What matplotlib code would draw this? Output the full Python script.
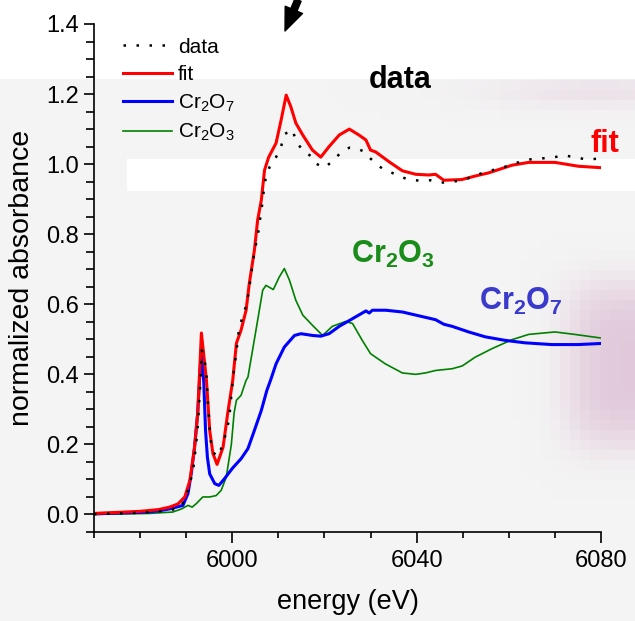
import numpy as np
import matplotlib.pyplot as plt
from matplotlib.ticker import FixedLocator, MultipleLocator

plt.rcParams["font.family"] = "Liberation Sans"
plt.rcParams["mathtext.fontset"] = "custom"
plt.rcParams["mathtext.rm"] = "Liberation Sans"
plt.rcParams["mathtext.it"] = "Liberation Sans:italic"
plt.rcParams["mathtext.bf"] = "Liberation Sans:bold"

# measured spectrum (dotted)
data_e = [5970, 5975, 5980, 5985, 5988.6, 5990.0, 5990.8, 5991.5, 5991.8, 5992.4, 5992.6,
          5992.9, 5993.1, 5993.4, 5994.1, 5994.4, 5994.7, 5994.9, 5995.1, 5995.3, 5995.8,
          5996.8, 5998.0, 5999.3, 6000.1, 6001.1, 6001.4, 6002.1, 6003.0, 6003.5, 6003.9,
          6004.3, 6004.7, 6005.7, 6006.1, 6006.5, 6006.8, 6007.2, 6008.1, 6009.5, 6010.6,
          6011.3, 6013.0, 6014.0, 6015.6, 6017.1, 6018.1, 6019.9, 6021.9, 6023.5, 6025.4,
          6027.0, 6028.4, 6029.8, 6031.7, 6032.8, 6034.7, 6036.5, 6038.3, 6040.5, 6043.0,
          6045.3, 6049.8, 6054.5, 6057.1, 6059.6, 6061.8, 6064.1, 6066.9, 6069.5, 6072.1,
          6074.5, 6077.1, 6079.6]
data_y = [0.001, 0.003, 0.005, 0.010, 0.017, 0.050, 0.089, 0.126, 0.160, 0.231, 0.269,
          0.340, 0.378, 0.469, 0.431, 0.395, 0.321, 0.286, 0.249, 0.213, 0.178,
          0.165, 0.200, 0.270, 0.383, 0.488, 0.523, 0.559, 0.595, 0.630, 0.667,
          0.704, 0.740, 0.811, 0.850, 0.886, 0.921, 0.956, 0.992, 1.020, 1.051,
          1.085, 1.099, 1.061, 1.035, 1.023, 1.002, 0.990, 1.009, 1.033, 1.047,
          1.045, 1.037, 1.018, 0.996, 0.985, 0.975, 0.964, 0.956, 0.953, 0.954,
          0.947, 0.953, 0.976, 0.985, 0.994, 1.004, 1.013, 1.016, 1.019, 1.025,
          1.019, 1.013, 1.016]

# linear combination fit
fit_e = [5970, 5975, 5980, 5984, 5986.4, 5988.2, 5989.7, 5990.8, 5991.8, 5992.5, 5993.3,
         5994.4, 5995.1, 5995.8, 5996.7, 5998.0, 5999.0, 6000.1, 6000.9, 6001.9, 6003.0,
         6003.7, 6004.8, 6005.5, 6006.3, 6007.0, 6007.9, 6009.5, 6010.6, 6011.7, 6012.7,
         6013.8, 6015.3, 6017.4, 6019.2, 6021.0, 6023.2, 6025.4, 6027.5, 6029.0, 6030.0,
         6031.1, 6034.0, 6036.9, 6039.8, 6042.6, 6044.1, 6045.9, 6049.8, 6052.7, 6055.6,
         6060.7, 6064.3, 6070.0, 6075.1, 6079.8]
fit_y = [0.003, 0.006, 0.009, 0.014, 0.021, 0.030, 0.050, 0.097, 0.190, 0.288, 0.518,
         0.383, 0.240, 0.174, 0.143, 0.192, 0.288, 0.383, 0.489, 0.526, 0.583,
         0.660, 0.754, 0.840, 0.897, 0.983, 1.020, 1.060, 1.126, 1.197, 1.164,
         1.117, 1.083, 1.040, 1.020, 1.050, 1.083, 1.100, 1.083, 1.069, 1.040,
         1.035, 1.007, 0.981, 0.971, 0.969, 0.971, 0.954, 0.956, 0.966, 0.975,
         0.997, 1.005, 1.005, 0.994, 0.990]

# Cr2O7 reference
cr2o7_e = [5970, 5980, 5984, 5986.4, 5989.3, 5990.4, 5991.1, 5991.8, 5992.5, 5992.9, 5993.3,
           5993.8, 5994.2, 5994.6, 5995.1, 5996.2, 5997.1, 5998.3, 6000.1, 6001.9, 6003.4,
           6004.8, 6006.3, 6007.5, 6008.3, 6009.5, 6011.3, 6013.5, 6014.9, 6017.4, 6019.2,
           6021.0, 6023.2, 6026.1, 6029.0, 6029.7, 6030.4, 6033.3, 6036.9, 6040.5, 6044.1,
           6045.9, 6047.7, 6051.3, 6054.9, 6059.2, 6063.5, 6069.3, 6075.1, 6079.8]
cr2o7_y = [0.002, 0.006, 0.010, 0.016, 0.026, 0.060, 0.117, 0.190, 0.290, 0.383, 0.470,
           0.383, 0.240, 0.164, 0.116, 0.088, 0.083, 0.102, 0.133, 0.159, 0.188,
           0.240, 0.297, 0.354, 0.383, 0.430, 0.478, 0.511, 0.516, 0.511, 0.509,
           0.516, 0.537, 0.559, 0.581, 0.575, 0.583, 0.583, 0.578, 0.567, 0.556,
           0.543, 0.537, 0.521, 0.507, 0.497, 0.490, 0.485, 0.485, 0.488]

# Cr2O3 reference
cr2o3_e = [5970, 5982.1, 5987.1, 5989.0, 5990.4, 5991.3, 5992.2, 5993.6, 5995.1, 5996.5,
           5997.6, 5998.7, 5999.8, 6000.4, 6000.9, 6001.9, 6003.0, 6003.4, 6004.4, 6005.5,
           6006.6, 6007.3, 6008.9, 6010.2, 6011.3, 6012.4, 6013.8, 6015.3, 6017.4, 6019.6,
           6021.7, 6024.6, 6026.1, 6028.2, 6030.0, 6033.2, 6036.9, 6039.8, 6041.9, 6044.1,
           6047.7, 6049.9, 6052.7, 6056.3, 6060.7, 6064.3, 6070.0, 6074.3, 6079.8]
cr2o3_y = [0.000, 0.003, 0.007, 0.016, 0.026, 0.021, 0.031, 0.050, 0.050, 0.054,
           0.069, 0.107, 0.200, 0.290, 0.326, 0.340, 0.383, 0.392, 0.469, 0.554,
           0.640, 0.654, 0.642, 0.678, 0.702, 0.669, 0.611, 0.569, 0.540, 0.511,
           0.537, 0.551, 0.545, 0.497, 0.459, 0.430, 0.404, 0.400, 0.404, 0.411,
           0.416, 0.424, 0.449, 0.473, 0.499, 0.514, 0.521, 0.514, 0.504]

x_major = [6000, 6040, 6080]

fig = plt.figure(figsize=(6.35, 6.21), dpi=100)

# grey scanned-looking backdrop with a blocky pink smudge
H, W = 621, 635
cy = np.arange(0, H, 10) + 5.0
cx = np.arange(0, W, 10) + 5.0
gx, gy = np.meshgrid(cx, cy)
a = 0.85 * np.exp(-((gx - 645) / 80.0) ** 4 - ((gy - 365) / 85.0) ** 4)
a += 0.35 * np.exp(-((gx - 600) / 110.0) ** 2 - ((gy - 92) / 16.0) ** 2)
a = np.clip(a, 0, 1)
a = np.repeat(np.repeat(a, 10, axis=0), 10, axis=1)[:H, :W]
grey = np.array([0.957, 0.957, 0.957])
pink = np.array([0.87, 0.76, 0.84])
bg = grey * (1 - a[..., None]) + pink * a[..., None]
bg[:79] = 1.0
bg[159:191, 127:] = 1.0
fig.figimage(bg, xo=0, yo=0, origin="upper", zorder=-5)

ax = fig.add_axes([94 / 635, 1 - 532 / 621, 507 / 635, 508 / 621])
ax.set_zorder(2)
ax.patch.set_visible(False)

ax.plot(cr2o3_e, cr2o3_y, color="#008000", lw=1.2, label=r"Cr$_2$O$_3$")
ax.plot(cr2o7_e, cr2o7_y, color="#0000ff", lw=2.2, label=r"Cr$_2$O$_7$")
ax.plot(fit_e, fit_y, color="#ff0000", lw=2.2, label="fit")
ax.plot(data_e, data_y, color="black", lw=1.8, linestyle=(0, (1, 4.2)),
        dash_capstyle="butt", label="data")

ax.set_xlim(5970, 6080)
ax.set_ylim(-0.05, 1.4)
ax.xaxis.set_major_locator(FixedLocator(x_major))
ax.xaxis.set_minor_locator(MultipleLocator(10))
ax.yaxis.set_major_locator(MultipleLocator(0.2))
ax.yaxis.set_minor_locator(MultipleLocator(0.05))
ax.yaxis.set_major_formatter(plt.FormatStrFormatter("%.1f"))

for s in ["top", "right"]:
    ax.spines[s].set_visible(False)
for s in ["left", "bottom"]:
    ax.spines[s].set_linewidth(1.2)

ax.tick_params(axis="both", which="both", direction="out", width=1.2, labelsize=17)
ax.tick_params(axis="x", which="major", length=8, pad=5)
ax.tick_params(axis="x", which="minor", length=4)
ax.tick_params(axis="y", which="major", length=7, pad=4)
ax.tick_params(axis="y", which="minor", length=6)

ax.set_xlabel("energy (eV)", fontsize=19.5, labelpad=12)
ax.set_ylabel("normalized absorbance", fontsize=20.5, labelpad=8)

h, l = ax.get_legend_handles_labels()
order = [3, 2, 1, 0]
ax.legend([h[i] for i in order], [l[i] for i in order], loc="upper left",
          bbox_to_anchor=(0.057, 0.973), frameon=False, fontsize=15,
          handlelength=2.35, handletextpad=0.3, borderpad=0, borderaxespad=0,
          labelspacing=0.4)

ax.text(6036.4, 1.217, "data", fontsize=22, fontweight="bold", color="black",
        ha="center", va="baseline")
ax.text(6080.9, 1.035, "fit", fontsize=22, fontweight="bold", color="#ff0000",
        ha="center", va="baseline", clip_on=False)
ax.text(6034.9, 0.717, r"$\mathbf{Cr_2O_3}$", fontsize=22, color="#1a8c1a",
        ha="center", va="baseline")
ax.text(6062.6, 0.583, r"$\mathbf{Cr_2O_7}$", fontsize=22, color="#3a3acc",
        ha="center", va="baseline")

ax.annotate("", xy=(285 / 635, 1 - 31 / 621), xycoords="figure fraction",
            xytext=(298 / 635, 1.0), textcoords="figure fraction",
            arrowprops=dict(arrowstyle="simple,head_length=1.1,head_width=0.9,tail_width=0.32",
                            mutation_scale=15, color="black", shrinkA=0, shrinkB=0),
            annotation_clip=False)

fig.savefig("out.png", dpi=100)
